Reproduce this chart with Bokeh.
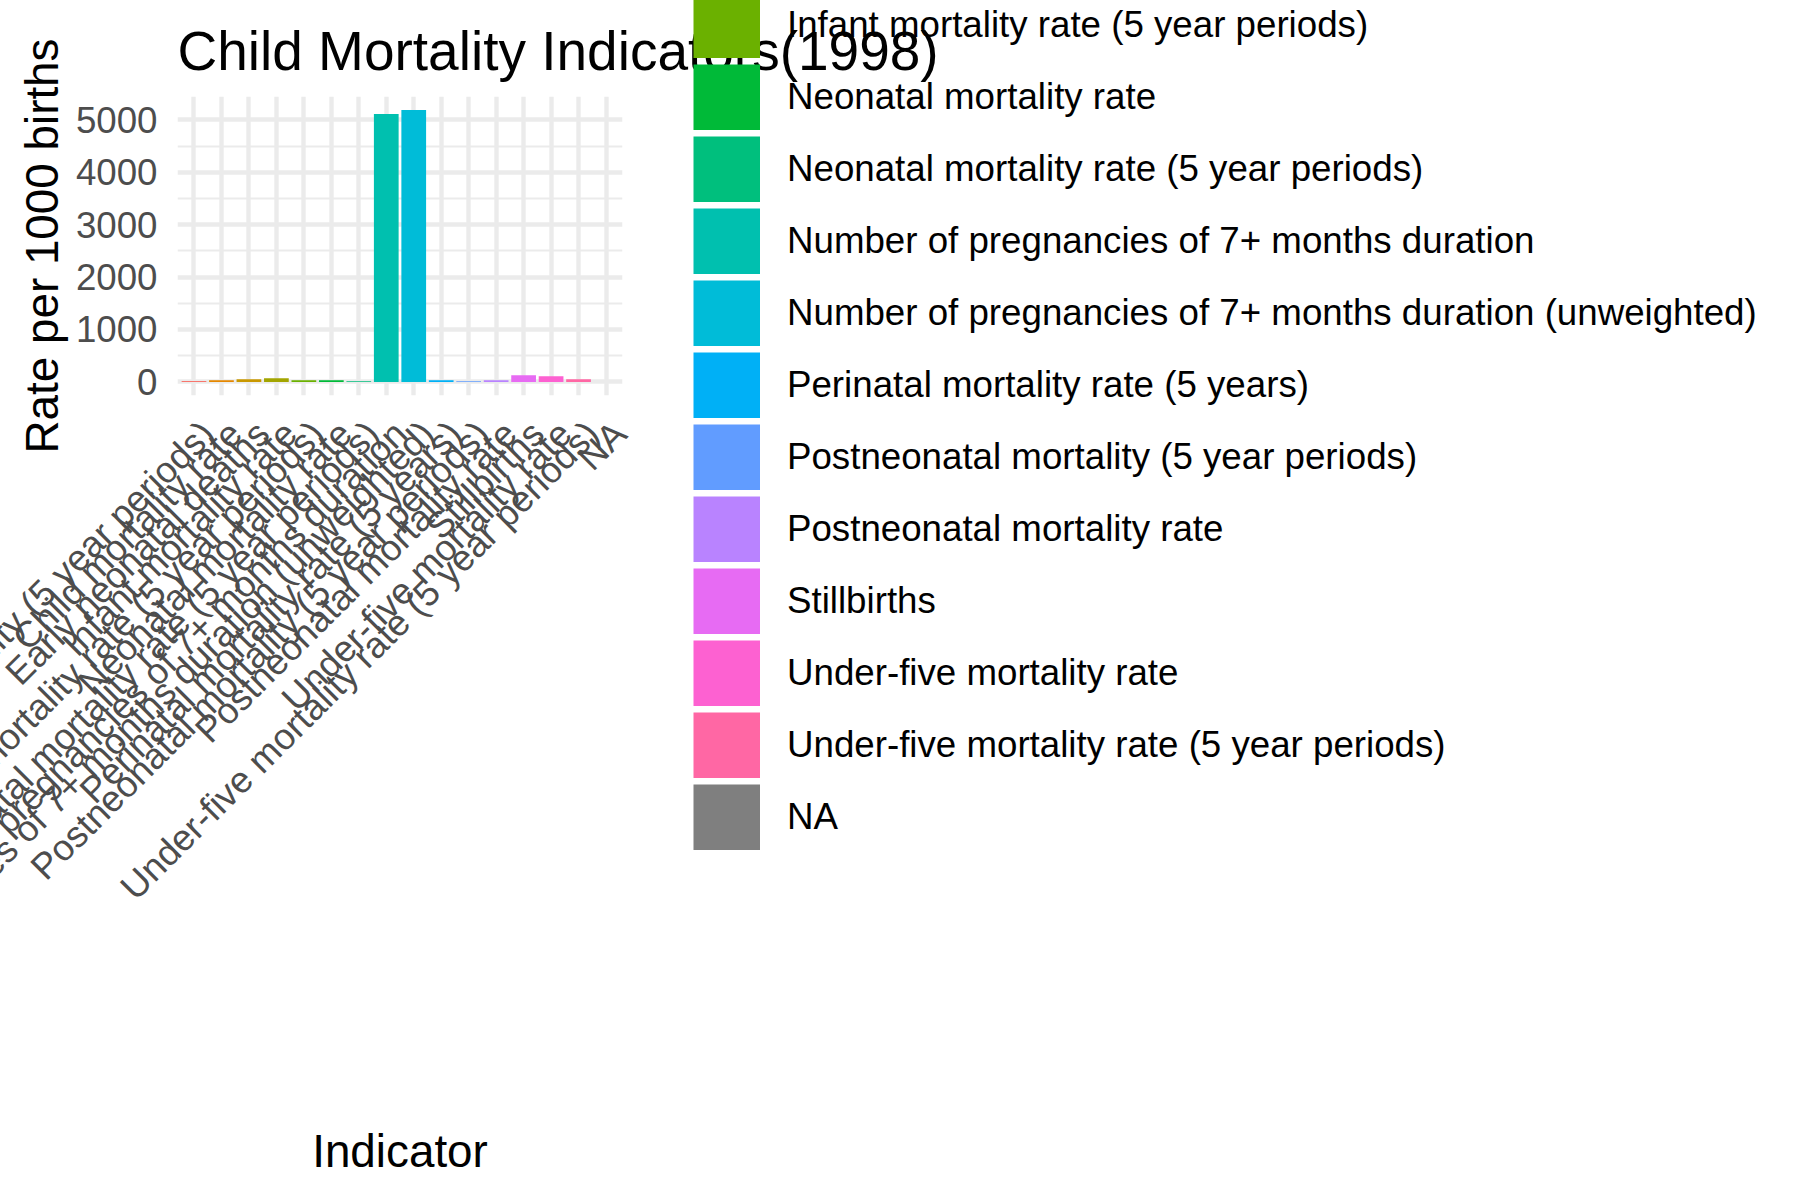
import math
from bokeh.plotting import figure
from bokeh.models import (ColumnDataSource, Range1d, FixedTicker, Legend, LegendItem, LinearAxis)
from bokeh.core.properties import field
from bokeh.embed import file_html
from bokeh.resources import INLINE

# ---- data ----
categories = [
    "Child mortality (5 year periods)",
    "Child mortality rate",
    "Early neonatal deaths",
    "Infant mortality rate",
    "Infant mortality rate (5 year periods)",
    "Neonatal mortality rate",
    "Neonatal mortality rate (5 year periods)",
    "Number of pregnancies of 7+ months duration",
    "Number of pregnancies of 7+ months duration (unweighted)",
    "Perinatal mortality rate (5 years)",
    "Postneonatal mortality (5 year periods)",
    "Postneonatal mortality rate",
    "Stillbirths",
    "Under-five mortality rate",
    "Under-five mortality rate (5 year periods)",
    "NA",
]
values = [15, 32, 51, 70, 32, 32, 13, 5109, 5185, 32, 13, 32, 127, 108, 51, float("nan")]
colors = [
    "#F8766D", "#E58700", "#C99800", "#A3A500", "#6BB100", "#00BA38", "#00BF7D",
    "#00C0AF", "#00BCD8", "#00B0F6", "#619CFF", "#B983FF", "#E76BF3", "#FD61D1",
    "#FF67A4", "#7F7F7F",
]
y_ticks = [0, 1000, 2000, 3000, 4000, 5000]
y_minor = [500, 1500, 2500, 3500, 4500]

FONT = "Liberation Sans"
n = len(categories)
idx = list(range(n))  # discrete positions of the categories

src = ColumnDataSource(dict(idx=idx, indicator=categories, value=values, color=colors))
# legend-key source: same categories and colours, nothing drawn in the panel
key_src = ColumnDataSource(dict(idx=idx, indicator=categories, color=colors,
                                y=[float("nan")] * n))

vmax = max(v for v in values if v == v)
pad = 0.05 * vmax

p = figure(
    x_range=Range1d(-0.6, (n - 1) + 0.6),
    y_range=Range1d(-pad, vmax + pad),
    x_axis_location=None,
    frame_width=445, frame_height=299,
    min_border_left=177, min_border_right=0,
    min_border_top=96, min_border_bottom=805,
    output_backend="svg", toolbar_location=None,
    title="Child Mortality Indicators(1998)",
)

p.vbar(x="idx", top="value", bottom=0, width=0.9, source=src,
       fill_color="color", line_color=None)

keys = p.segment(x0="idx", y0="y", x1="idx", y1="y", source=key_src,
                 line_color="color", line_width=66, line_cap="butt")

p.background_fill_color = "white"
p.border_fill_color = "white"
p.outline_line_color = None

# title
p.title.text_font = FONT
p.title.text_font_size = "55px"
p.title.text_font_style = "normal"
p.title.text_color = "black"
p.title.align = "left"
p.title.standoff = 30

# x axis: category labels anchored like ggplot (hjust = 1, vjust = 1) -> small rightward shift.
# A blank leading tick keeps Bokeh from re-fitting the first real label inside the canvas.
shift = 0.51
p.extra_x_ranges = {"labels": Range1d(-0.6 - shift, (n - 1) + 0.6 - shift)}
lead = idx[0] - 1
overrides = {lead: " "}
overrides.update({i: c for i, c in zip(idx, categories)})
xax = LinearAxis(
    x_range_name="labels",
    ticker=FixedTicker(ticks=[lead] + idx, minor_ticks=[]),
    major_label_overrides=overrides,
    major_label_orientation=math.pi / 4,
    axis_label="Indicator",
)
p.add_layout(xax, "below")

yax = p.yaxis[0]
for ax in (xax, yax):
    ax.axis_line_color = None
    ax.major_tick_line_color = None
    ax.minor_tick_line_color = None
    ax.major_label_text_font = FONT
    ax.major_label_text_font_size = "36.7px"
    ax.major_label_text_color = "#4D4D4D"
    ax.axis_label_text_font = FONT
    ax.axis_label_text_font_size = "45.8px"
    ax.axis_label_text_font_style = "normal"
    ax.axis_label_text_color = "black"

xax.major_label_standoff = 26
xax.axis_label_standoff = -19

yax.axis_label = "Rate per 1000 births"
yax.ticker = FixedTicker(ticks=y_ticks, minor_ticks=y_minor)
yax.major_label_standoff = 14
yax.axis_label_standoff = 5

# grid
p.xgrid.ticker = FixedTicker(ticks=idx, minor_ticks=[])
p.xgrid.grid_line_color = "#EBEBEB"
p.xgrid.grid_line_width = 4.4
p.ygrid.grid_line_color = "#EBEBEB"
p.ygrid.grid_line_width = 4.4
p.ygrid.minor_grid_line_color = "#EBEBEB"
p.ygrid.minor_grid_line_width = 2.2

# legend (outside the panel, on the right; it runs past the top edge as in the reference)
lg = Legend(
    items=[LegendItem(label=field("indicator"), renderers=[keys])],
    location=(71, -455),
    orientation="vertical",
    glyph_width=67, glyph_height=66, spacing=6,
    padding=0, margin=0, label_standoff=27, label_height=20,
    label_text_font=FONT, label_text_font_size="36.7px", label_text_color="black",
    border_line_color=None, background_fill_alpha=0,
)
p.add_layout(lg, "right")

open("out.html", "w").write(file_html(p, INLINE))
